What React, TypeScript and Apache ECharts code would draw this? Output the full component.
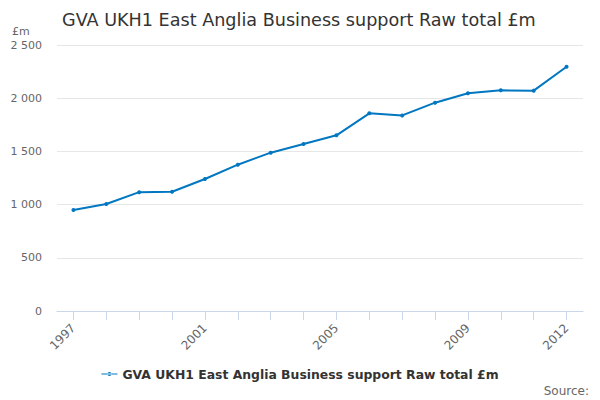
import React, { useEffect, useRef } from "react";
import * as echarts from "echarts";

const years = ["1997","1998","1999","2000","2001","2002","2003","2004","2005","2006","2007","2008","2009","2010","2011","2012"];
const values = [950, 1006, 1117, 1121, 1241, 1375, 1488, 1570, 1651, 1858, 1838, 1958, 2046, 2074, 2071, 2296];
const seriesName = "GVA UKH1 East Anglia Business support Raw total £m";
const titleText = "GVA UKH1 East Anglia Business support Raw total £m";
const yTicks = [0, 500, 1000, 1500, 2000, 2500];
const labelYears = ["1997", "2001", "2005", "2009", "2012"];

const FONT = "DejaVu Sans, sans-serif";
const LINE = "#0077c0";

export default function App() {
  const ref = useRef<HTMLDivElement>(null);
  useEffect(() => {
    if (!ref.current) return;
    document.body.style.margin = "0";
    const chart = echarts.init(ref.current, undefined, { renderer: "svg" });
    chart.setOption({
      animation: false,
      backgroundColor: "#ffffff",
      textStyle: { fontFamily: FONT },
      title: {
        text: titleText,
        left: 57,
        top: 6,
        textStyle: { fontFamily: FONT, fontSize: 17.6, fontWeight: "normal", color: "#333333" },
      },
      graphic: [
        { type: "text", left: 12, top: 26, style: { text: "£m", font: `11px ${FONT}`, fill: "#666666" } },
        { type: "text", right: 11, top: 385, style: { text: "Source:", font: `12px ${FONT}`, fill: "#666666" } },
      ],
      legend: {
        bottom: 15,
        left: "center",
        itemWidth: 16,
        itemHeight: 4,
        itemGap: 6,
        textStyle: { fontFamily: FONT, fontSize: 12.4, fontWeight: "bold", color: "#333333" },
        data: [{ name: seriesName, icon: "path://M0,1.5 L16,1.5 L16,2.5 L0,2.5 Z M6,2 A2,2 0 1,0 10,2 A2,2 0 1,0 6,2 Z" }],
      },
      grid: { left: 57, right: 17, top: 45, bottom: 89, containLabel: false },
      xAxis: {
        type: "category",
        data: years,
        boundaryGap: true,
        axisLine: { lineStyle: { color: "#ccd6eb" } },
        axisTick: { show: true, alignWithLabel: true, interval: 0, length: 9, lineStyle: { color: "#ccd6eb" } },
        axisLabel: {
          interval: (i: number, v: string) => labelYears.includes(v),
          rotate: 45,
          fontFamily: FONT,
          fontSize: 12,
          color: "#666666",
          margin: 15,
        },
      },
      yAxis: {
        type: "value",
        min: yTicks[0],
        max: yTicks[yTicks.length - 1],
        interval: 500,
        axisLine: { show: false },
        axisTick: { show: false },
        splitLine: { lineStyle: { color: "#e6e6e6" } },
        axisLabel: {
          fontFamily: FONT,
          fontSize: 11,
          color: "#666666",
          margin: 15,
          formatter: (v: number) => String(v).replace(/\B(?=(\d{3})+(?!\d))/g, " "),
        },
      },
      series: [
        {
          name: seriesName,
          type: "line",
          data: values,
          color: LINE,
          symbol: "circle",
          symbolSize: 4,
          lineStyle: { width: 2, color: LINE },
          itemStyle: { color: LINE },
        },
      ],
    });
    return () => chart.dispose();
  }, []);
  return <div ref={ref} style={{ width: 600, height: 400 }} />;
}
